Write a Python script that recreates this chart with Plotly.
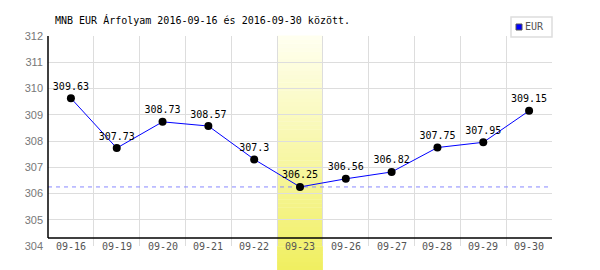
import plotly.graph_objects as go

dates = ["09-16", "09-19", "09-20", "09-21", "09-22", "09-23",
         "09-26", "09-27", "09-28", "09-29", "09-30"]
eur = [309.63, 307.73, 308.73, 308.57, 307.3, 306.25,
       306.56, 306.82, 307.75, 307.95, 309.15]
highlight_date = "09-23"
y_min, y_max = 304, 312
title_text = "MNB EUR Árfolyam 2016-09-16 és 2016-09-30 között."
series_name = "EUR"

W, H = 600, 270
ML, MR, MT, MB = 48, 48, 36, 24
PW, PH = W - ML - MR, H - MT - MB


def py(pixel_y):
    return (H - MB - pixel_y) / PH


def px(pixel_x):
    return (pixel_x - ML) / PW


xs = list(range(len(dates)))
hi = dates.index(highlight_date)

fig = go.Figure()
fig.add_trace(go.Scatter(
    x=xs, y=eur, mode="lines+markers+text",
    line=dict(color="#0000ff", width=1),
    marker=dict(color="#000000", size=8),
    text=[str(v) for v in eur], textposition="top center",
    textfont=dict(family="DejaVu Sans Mono", size=10, color="#000000"),
    cliponaxis=False, showlegend=False, hoverinfo="skip",
))

shapes = []
# dashed line at minimum value
shapes.append(dict(type="line", xref="x", yref="y", x0=-0.5, x1=len(dates) - 0.5,
                   y0=min(eur), y1=min(eur), layer="between",
                   line=dict(color="#8888ff", width=1, dash="4px,4px")))
# gradient band for highlighted day
top_c = (255, 255, 240)
bot_c = (240, 239, 96)
n = 60
yb, yt = py(H), 1.0
for i in range(n):
    t = (i + 0.5) / n
    c = tuple(round(bot_c[k] + (top_c[k] - bot_c[k]) * t) for k in range(3))
    shapes.append(dict(type="rect", xref="x", yref="paper",
                       x0=hi - 0.5, x1=hi + 0.5,
                       y0=yb + (yt - yb) * i / n, y1=yb + (yt - yb) * (i + 1) / n + 0.002,
                       layer="between", line=dict(width=0),
                       fillcolor="rgb(%d,%d,%d)" % c))
# black axis lines
shapes.append(dict(type="line", xref="paper", yref="paper", x0=0, x1=1,
                   y0=py(238), y1=py(238), layer="above",
                   line=dict(color="#000000", width=1.5)))
shapes.append(dict(type="line", xref="paper", yref="paper", x0=0, x1=0,
                   y0=py(238), y1=1, layer="above",
                   line=dict(color="#000000", width=1.5)))
# legend box
shapes.append(dict(type="rect", xref="paper", yref="paper",
                   x0=px(511), x1=px(552), y0=py(37), y1=py(17), layer="above",
                   line=dict(color="#dddddd", width=1.5), fillcolor="#ffffff"))
shapes.append(dict(type="rect", xref="paper", yref="paper",
                   x0=px(516), x1=px(522), y0=py(30), y1=py(24), layer="above",
                   line=dict(color="#555555", width=1), fillcolor="#0000ff"))

annotations = []
for i, d in enumerate(dates):
    annotations.append(dict(x=i, y=y_min, xref="x", yref="y", text=d,
                            showarrow=False, yanchor="middle", xanchor="center",
                            font=dict(family="DejaVu Sans Mono", size=10, color="#555555")))
annotations.append(dict(x=px(53), y=py(20), xref="paper", yref="paper", text=title_text,
                        showarrow=False, xanchor="left", yanchor="middle",
                        font=dict(family="DejaVu Sans Mono", size=10, color="#000000")))
annotations.append(dict(x=px(523), y=py(27), xref="paper", yref="paper", text=series_name,
                        showarrow=False, xanchor="left", yanchor="middle",
                        font=dict(family="DejaVu Sans Mono", size=10, color="#555555")))

fig.update_layout(
    width=W, height=H,
    margin=dict(l=ML, r=MR, t=MT, b=MB, pad=0),
    paper_bgcolor="#ffffff", plot_bgcolor="#ffffff",
    shapes=shapes, annotations=annotations, showlegend=False,
    xaxis=dict(range=[-0.5, len(dates) - 0.5],
               tickvals=[i - 0.5 for i in range(len(dates) + 1)],
               showticklabels=False, showgrid=True, gridcolor="#dddddd", gridwidth=1,
               zeroline=False, showline=False, fixedrange=True),
    yaxis=dict(range=[y_min, y_max], dtick=1, tick0=y_min,
               showgrid=True, gridcolor="#dddddd", gridwidth=1,
               zeroline=False, showline=False, ticks="", ticklabelstandoff=4,
               tickfont=dict(family="Liberation Sans", size=11, color="#777777"),
               fixedrange=True),
)

fig.write_html("out.html")
